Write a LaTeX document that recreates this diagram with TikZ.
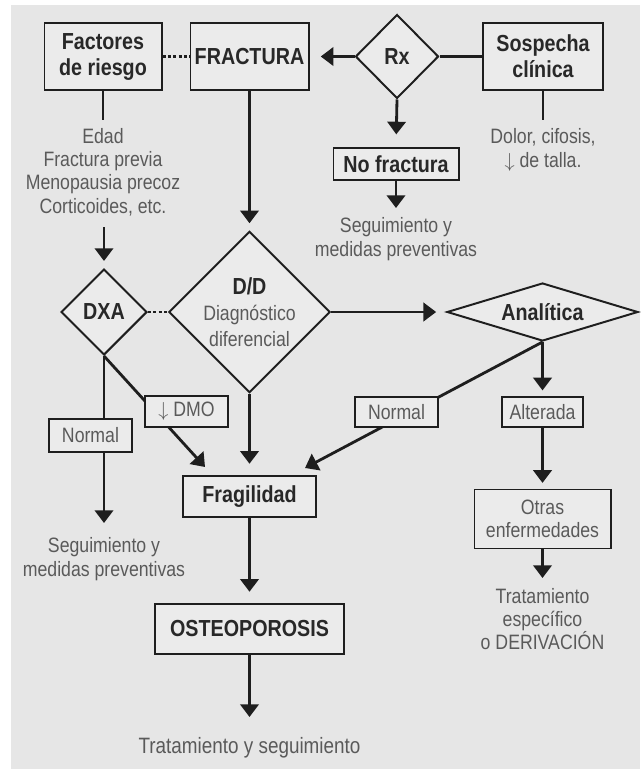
\documentclass[tikz,border=0pt]{standalone}
\usepackage{fontspec}
\setmainfont{Liberation Sans}[FakeStretch=0.85]
\usepackage{tikz}
\usetikzlibrary{arrows.meta,shapes.geometric}
\usepackage{xcolor}
\definecolor{fondo}{RGB}{230,230,230}
\definecolor{caja}{RGB}{235,235,235}
\definecolor{linea}{RGB}{30,30,30}
\definecolor{oscuro}{RGB}{40,40,40}
\definecolor{texto}{RGB}{90,90,90}
\newcommand{\fbold}{\fontsize{16.5}{18.5}\selectfont\bfseries}
\newcommand{\freg}{\fontsize{14.8}{16.6}\selectfont}
\newcommand{\lreg}[1]{{\freg\mdseries\color{texto}#1}}
\pgfdeclarelayer{edges}
\pgfsetlayers{edges,main}

\begin{document}
\begin{tikzpicture}[x=0.025cm,y=-0.025cm,>={Triangle[width=13pt,length=9pt]}]
  \tikzstyle{box}=[rectangle,draw=linea,line width=1.4pt,fill=caja,align=center,inner sep=0pt,text=oscuro,font=\fbold]
  \tikzstyle{lbl}=[rectangle,draw=linea,line width=1.4pt,fill=caja,align=center,inner sep=0pt,text=texto,font=\freg]
  \tikzstyle{dec}=[diamond,draw=linea,line width=1.4pt,fill=caja,align=center,inner sep=0pt,text=oscuro,font=\fbold]
  \tikzstyle{txt}=[align=center,inner sep=0pt,text=texto,font=\freg]
  \tikzstyle{link}=[draw=linea,line width=2pt]
  \tikzstyle{punteado}=[draw=linea,line width=2pt,dash pattern=on 2.2pt off 1.6pt]
  \useasboundingbox (0,0) rectangle (640,769);
  % fila superior
  \node(fact) at (103,56.5)[box,minimum width=2.925cm,minimum height=1.675cm]{Factores\\de riesgo};
  \node(frac) at (249.5,56.5)[box,minimum width=2.95cm,minimum height=1.675cm]{FRACTURA};
  \node(rx) at (397,56.5)[dec,minimum width=2.075cm,minimum height=2.1cm]{Rx};
  \node(sosp) at (543,56.5)[box,minimum width=3cm,minimum height=1.675cm]{Sospecha\\clínica};
  \node(nofrac) at (396,164)[box,minimum width=3.125cm,minimum height=0.8cm]{No fractura};
  \node(t-dolor) at (543,150)[txt]{Dolor, cifosis,\\$\downarrow$ de talla.};
  \node(t-seg1) at (396,239)[txt]{Seguimiento y\\medidas preventivas};
  \node(t-edad) at (103,172)[txt]{Edad\\Fractura previa\\Menopausia precoz\\Corticoides, etc.};
  % rombos
  \node(dxa) at (104,312)[dec,minimum width=2.15cm,minimum height=2.15cm]{DXA};
  \node(dd) at (249.5,312)[dec,minimum width=3.85cm,minimum height=3.8cm]{D/D\\\lreg{Diagnóstico}\\\lreg{diferencial}};
  \node(anal) at (542.5,312)[dec,shape aspect=3.3,minimum width=4.775cm,minimum height=1.45cm]{Analítica};
  % etiquetas
  \node(dmo) at (186.5,411.5)[lbl,minimum width=2.075cm,minimum height=0.775cm]{$\downarrow$ DMO};
  \node(norm-l) at (90.5,435.5)[lbl,minimum width=2.075cm,minimum height=0.825cm]{Normal};
  \node(norm-r) at (396.5,412)[lbl,minimum width=2.075cm,minimum height=0.75cm]{Normal};
  \node(alt) at (542.5,412)[lbl,minimum width=2.025cm,minimum height=0.75cm]{Alterada};
  % parte inferior
  \node(frag) at (249.5,496.5)[box,minimum width=3.325cm,minimum height=1.025cm]{Fragilidad};
  \node(otras) at (542.5,519)[lbl,minimum width=3.4cm,minimum height=1.475cm]{Otras\\enfermedades};
  \node(t-seg2) at (104,559)[txt]{Seguimiento y\\medidas preventivas};
  \node(t-trat2) at (542.5,619)[txt]{Tratamiento\\específico\\o DERIVACIÓN};
  \node(osteo) at (249.5,629)[box,minimum width=4.725cm,minimum height=1.25cm]{OSTEOPOROSIS};
  \node(t-trat) at (249.5,748)[txt,font=\fontsize{15.8}{18}\selectfont]{Tratamiento y seguimiento};
  % puntos libres
  \coordinate(c-fact) at (103,120);
  \coordinate(c-sosp) at (543,120);
  \coordinate(c-edad) at (104,227);
  \coordinate(c-seg1) at (396,208);
  \coordinate(c-seg2) at (104,523);
  \coordinate(c-dmo) at (205,467);
  \coordinate(c-nr) at (305,468);
  \coordinate(c-trat2) at (542.5,578);
  \coordinate(c-trat) at (249.5,717);
  \begin{pgfonlayer}{edges}
    \fill[fondo] (11,5) rectangle (640,769);
    \draw[punteado](fact.east)--(frac.west);
    \draw[link,->,shorten >=8pt](rx.west)--(frac.east);
    \draw[link](rx.east)--(sosp.west);
    \draw[link](sosp.south)--(c-sosp);
    \draw[link](fact.south)--(c-fact);
    \draw[link,->,shorten >=9pt](rx.south)--(nofrac.north);
    \draw[link,->](nofrac.south)--(c-seg1);
    \draw[link,->,shorten >=5pt](c-edad)--(dxa.north);
    \draw[link,->,shorten >=5pt](frac.south)--(dd.north);
    \draw[punteado](dxa.east)--(dd.west);
    \draw[link,->,shorten >=7pt](dd.east)--(anal.west);
    \draw[link,->,shorten >=4pt](anal.south)--(alt.north);
    \draw[link,->](anal.south)--(c-nr);
    \draw[link,->](dxa.south)--(c-dmo);
    \draw[link,->](dxa.south)--(c-seg2);
    \draw[link,->,shorten >=8pt](dd.south)--(frag.north);
    \draw[link,->,shorten >=4pt](alt.south)--(otras.north);
    \draw[link,->](otras.south)--(c-trat2);
    \draw[link,->,shorten >=8pt](frag.south)--(osteo.north);
    \draw[link,->](osteo.south)--(c-trat);
  \end{pgfonlayer}
\end{tikzpicture}
\end{document}
